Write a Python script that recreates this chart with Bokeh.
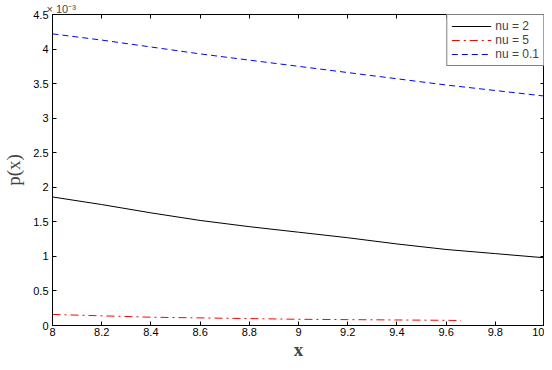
from bokeh.plotting import figure
from bokeh.models import Range1d, LinearAxis, FixedTicker, Legend, LegendItem
from bokeh.embed import file_html
from bokeh.resources import INLINE

# data (p(x) in units of 1e-3)
x_all = [8.0, 8.2, 8.4, 8.6, 8.8, 9.0, 9.2, 9.4, 9.6, 9.8, 10.0]
p_nu2 = [1.86, 1.75, 1.63, 1.52, 1.43, 1.35, 1.27, 1.18, 1.10, 1.04, 0.98]
p_nu01 = [4.22, 4.13, 4.03, 3.93, 3.84, 3.75, 3.66, 3.57, 3.48, 3.40, 3.32]
x_nu5 = [8.0, 8.2, 8.4, 8.6, 8.8, 9.0, 9.2, 9.4, 9.6, 9.66]
p_nu5 = [0.16, 0.14, 0.12, 0.11, 0.10, 0.09, 0.085, 0.08, 0.075, 0.072]

x_ticks = [8.0, 8.2, 8.4, 8.6, 8.8, 9.0, 9.2, 9.4, 9.6, 9.8, 10.0]
x_tick_labels = ["8", "8.2", "8.4", "8.6", "8.8", "9", "9.2", "9.4", "9.6", "9.8", "10"]
y_ticks = [0, 0.5, 1, 1.5, 2, 2.5, 3, 3.5, 4, 4.5]
y_tick_labels = ["0", "0.5", "1", "1.5", "2", "2.5", "3", "3.5", "4", "4.5"]
legend_labels = ["nu = 2", "nu = 5", "nu = 0.1"]
multiplier = "× 10⁻³"

font = "Liberation Sans"

p = figure(width=544, height=362, output_backend="svg", toolbar_location=None,
           x_range=Range1d(8, 10), y_range=Range1d(0, 4.5),
           min_border_left=8, min_border_right=0, min_border_top=0, min_border_bottom=0)
p.grid.visible = False
p.outline_line_color = "black"
p.outline_line_width = 1
p.background_fill_color = "white"

p.title.text = multiplier
p.title.text_font = font
p.title.text_font_size = "11px"
p.title.text_font_style = "normal"
p.title.align = "left"
p.title.offset = -6
p.title.standoff = 0

r1 = p.line(x_all, p_nu2, line_color="black", line_width=1)
r2 = p.line(x_nu5, p_nu5, line_color="red", line_width=1, line_dash="8 4 2 4")
r3 = p.line(x_all, p_nu01, line_color="blue", line_width=1, line_dash="6 4")

for ax in (p.xaxis[0], p.yaxis[0]):
    ax.major_tick_in = 4
    ax.major_tick_out = 0
    ax.minor_tick_in = 0
    ax.minor_tick_out = 0
    ax.major_label_text_font = font
    ax.major_label_text_font_size = "11px"
    ax.major_label_text_color = "black"
    ax.axis_line_color = "black"

p.xaxis[0].ticker = FixedTicker(ticks=x_ticks)
p.xaxis[0].major_label_overrides = {t: l for t, l in zip(x_ticks, x_tick_labels)}
p.yaxis[0].ticker = FixedTicker(ticks=y_ticks)
p.yaxis[0].major_label_overrides = {t: l for t, l in zip(y_ticks, y_tick_labels)}
p.xaxis[0].major_label_standoff = 2
p.yaxis[0].major_label_standoff = 4

p.xaxis[0].axis_label = "x"
p.xaxis[0].axis_label_text_font = "Liberation Serif"
p.xaxis[0].axis_label_text_font_style = "bold"
p.xaxis[0].axis_label_text_font_size = "19px"
p.xaxis[0].axis_label_standoff = 0
p.yaxis[0].axis_label = "p(x)"
p.yaxis[0].axis_label_text_font = "Liberation Serif"
p.yaxis[0].axis_label_text_font_style = "normal"
p.yaxis[0].axis_label_text_font_size = "19px"
p.yaxis[0].axis_label_standoff = 6

top = LinearAxis(ticker=FixedTicker(ticks=x_ticks),
                 major_label_overrides={t: "" for t in x_ticks},
                 major_tick_in=4, major_tick_out=0, minor_tick_in=0, minor_tick_out=0,
                 major_label_standoff=0)
right = LinearAxis(ticker=FixedTicker(ticks=y_ticks),
                   major_label_overrides={t: "" for t in y_ticks},
                   major_tick_in=4, major_tick_out=0, minor_tick_in=0, minor_tick_out=0,
                   major_label_standoff=0)
p.add_layout(top, "above")
p.add_layout(right, "right")

legend = Legend(items=[LegendItem(label=legend_labels[0], renderers=[r1]),
                       LegendItem(label=legend_labels[1], renderers=[r2]),
                       LegendItem(label=legend_labels[2], renderers=[r3])],
                location="top_right", margin=0, padding=4, spacing=0,
                label_text_font=font, label_text_font_size="12px",
                label_height=14, glyph_height=14, glyph_width=40, label_standoff=4,
                border_line_color="black", border_line_width=1,
                background_fill_alpha=1.0)
p.add_layout(legend)

open("out.html", "w").write(file_html(p, INLINE))
